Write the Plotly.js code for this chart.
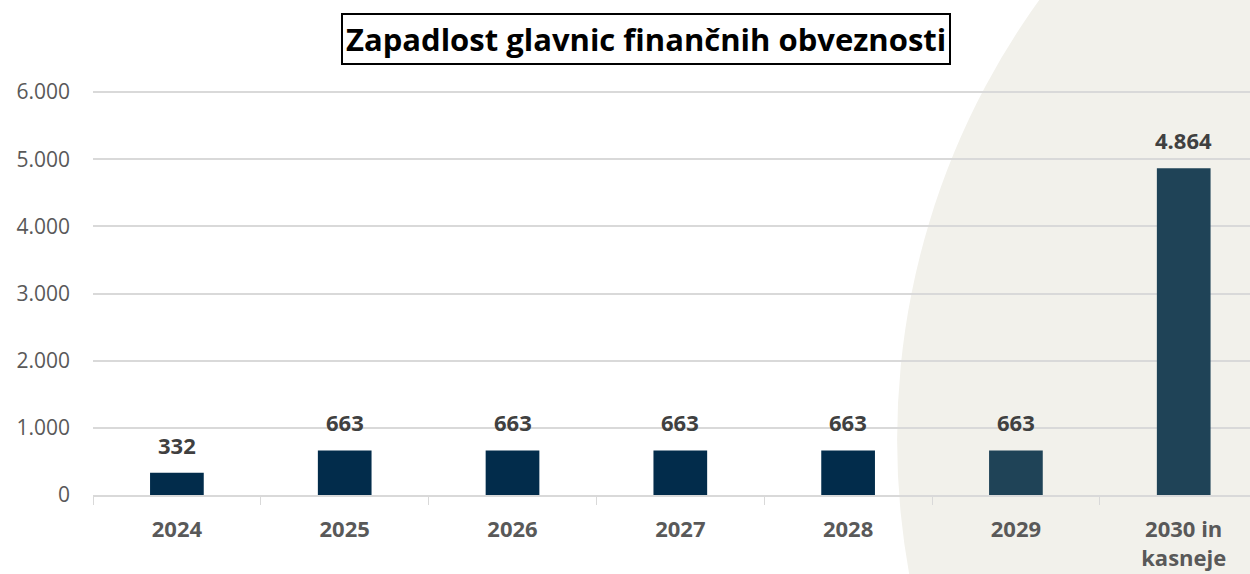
<!DOCTYPE html>
<html>
<head>
<meta charset="utf-8">
<script src="https://cdn.plot.ly/plotly-3.0.1.min.js"></script>
<style>
  html, body { margin: 0; padding: 0; background: #ffffff; }
  #plot { width: 1250px; height: 574px; }
</style>
</head>
<body>
<div id="plot"></div>
<script>
/*
Zapadlost glavnic
*/

var years = ["2024", "2025", "2026", "2027", "2028", "2029", "2030 in<br>kasneje"];
var principal = [332, 663, 663, 663, 663, 663, 4864];
var yTicks = [0, 1000, 2000, 3000, 4000, 5000, 6000];

var barColors = ['#022c4b', '#022c4b', '#022c4b', '#022c4b', '#022c4b', '#1f4357', '#1f4357'];

var trace1 =
{
  x: years,
  y: principal,
  type: "bar",
  width: 0.32,
  marker: { color: barColors },
  hoverinfo: "none"
};

// value labels, placed by category index
var valueLabels = years.map(function (yr, i) {
  return {
    x: i,
    y: principal[i],
    xref: "x",
    yref: "y",
    text: principal[i].toLocaleString("de-DE"),
    showarrow: false,
    yanchor: "bottom",
    yshift: 11,
    font: { family: "Open Sans", size: 22, color: "#404040", weight: "bold" }
  };
});

var titleBox =
{
  text: "Zapadlost glavnic finančnih obveznosti",
  xref: "paper",
  yref: "paper",
  x: 0.478,
  y: 1.129,
  yanchor: "middle",
  showarrow: false,
  bordercolor: "#000000",
  borderwidth: 2,
  borderpad: 3,
  bgcolor: "#ffffff",
  font: { family: "Open Sans", size: 31, color: "#000000", weight: "bold" }
};

var layout =
{
  width: 1250,
  height: 574,
  margin: { l: 93, r: 0, t: 91, b: 79 },
  paper_bgcolor: "#ffffff",
  plot_bgcolor: "rgba(0,0,0,0)",
  separators: ",.",
  showlegend: false,
  xaxis:
  {
    type: "category",
    range: [-0.5, 6.395],
    tickson: "boundaries",
    ticks: "outside",
    ticklen: 8,
    tickcolor: "#d9d9d9",
    showline: true,
    linecolor: "#d9d9d9",
    linewidth: 2,
    ticklabelstandoff: 14,
    tickfont: { family: "Open Sans", size: 22, color: "#595959", weight: "bold" },
    fixedrange: true
  },
  yaxis:
  {
    range: [0, 6015],
    tickvals: yTicks,
    tickformat: ",",
    showgrid: true,
    gridcolor: "#d9d9d9",
    gridwidth: 2,
    zeroline: false,
    ticklabelstandoff: 22,
    tickfont: { family: "Open Sans", size: 21, color: "#595959" },
    fixedrange: true
  },
  shapes:
  [
    {
      type: "circle",
      xref: "paper",
      yref: "paper",
      x0: 0.695, x1: 1.988,
      y0: -1.72, y1: 1.993,
      fillcolor: "#f2f1eb",
      line: { width: 0 },
      layer: "below"
    }
  ],
  annotations: valueLabels.concat([titleBox])
};

Plotly.newPlot("plot", [trace1], layout, { displayModeBar: false, staticPlot: true });
</script>
</body>
</html>
